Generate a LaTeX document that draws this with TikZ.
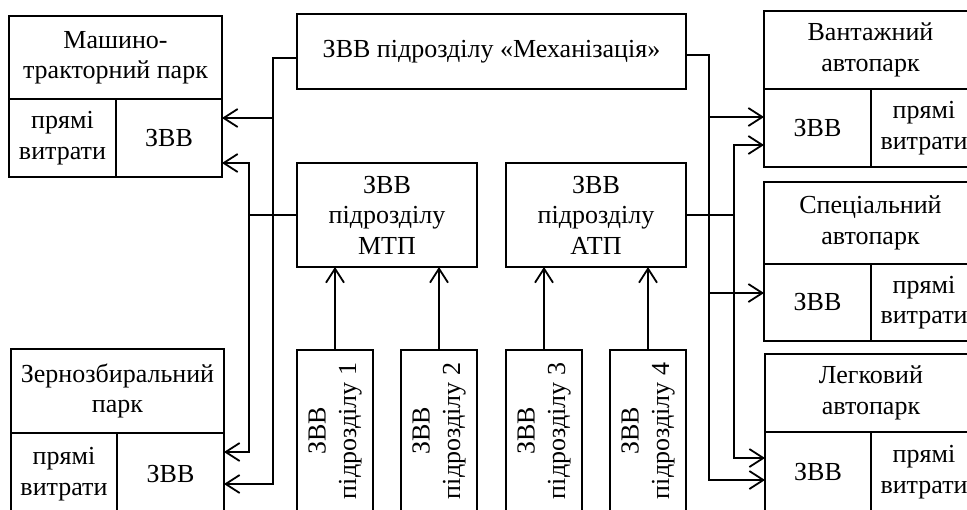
\documentclass[tikz,border=0pt]{standalone}
\usepackage{fontspec}
\setmainfont{Liberation Serif}
\usepackage{tikz}
\usetikzlibrary{arrows.meta,calc,positioning}
\newcommand{\zvFont}{\fontsize{13}{15.2}\selectfont}
\tikzset{
  zvBox/.style={
    rectangle, draw=black, line width=1pt, fill=white,
    align=center, text=black, inner sep=2pt, outer sep=0pt, font=\zvFont
  },
  zvLine/.style={draw=black, line width=0.9pt},
  zvArrow/.style={-{Straight Barb[length=7pt,width=9pt]}, draw=black, line width=0.9pt},
  zvBoth/.style={{Straight Barb[length=7pt,width=9pt]}-{Straight Barb[length=7pt,width=9pt]}, draw=black, line width=0.9pt}
}

\begin{document}
\begin{tikzpicture}[x=0.5pt, y=-0.5pt]
  \useasboundingbox (0,0) rectangle (967,509);
  \clip (0,0) rectangle (967,509);

  \node[zvBox, anchor=north west, minimum width=106.5pt, minimum height=41.5pt] (mtpPark) at (9,16) {Машино-\\тракторний парк};
  \node[zvBox, anchor=north west, minimum width=53.5pt, minimum height=39pt] (mtpDirect) at (mtpPark.south west) {прямі\\витрати};
  \node[zvBox, anchor=north west, minimum width=53pt, minimum height=39pt] (mtpZvv) at (mtpDirect.north east) {ЗВВ};

  \node[zvBox, anchor=north west, minimum width=106.5pt, minimum height=42pt] (grainPark) at (11,349) {Зернозбиральний\\парк};
  \node[zvBox, anchor=north west, minimum width=53pt, minimum height=41pt] (grainDirect) at (grainPark.south west) {прямі\\витрати};
  \node[zvBox, anchor=north west, minimum width=53.5pt, minimum height=41pt] (grainZvv) at (grainDirect.north east) {ЗВВ};

  \node[zvBox, anchor=north west, minimum width=194.5pt, minimum height=37.5pt] (mech) at (297,14) {ЗВВ підрозділу «Механізація»};
  \node[zvBox, anchor=north west, minimum width=90pt, minimum height=52pt] (mtpSub) at (297,163) {ЗВВ\\підрозділу\\МТП};
  \node[zvBox, right=14.5pt of mtpSub, minimum width=90pt, minimum height=52pt] (atpSub) {ЗВВ\\підрозділу\\АТП};

  \node[zvBox, rotate=90, minimum width=81pt, minimum height=38pt] (unit1) at (335,431) {ЗВВ\\підрозділу 1};
  \node[zvBox, rotate=90, minimum width=81pt, minimum height=38pt] (unit2) at (439,431) {ЗВВ\\підрозділу 2};
  \node[zvBox, rotate=90, minimum width=81pt, minimum height=38pt] (unit3) at (544,431) {ЗВВ\\підрозділу 3};
  \node[zvBox, rotate=90, minimum width=81pt, minimum height=38pt] (unit4) at (648,431) {ЗВВ\\підрозділу 4};

  \node[zvBox, anchor=north west, minimum width=106.5pt, minimum height=39pt] (cargoPark) at (764,11) {Вантажний\\автопарк};
  \node[zvBox, anchor=north west, minimum width=53.5pt, minimum height=39pt] (cargoZvv) at (cargoPark.south west) {ЗВВ};
  \node[zvBox, anchor=north west, minimum width=53pt, minimum height=39pt] (cargoDirect) at (cargoZvv.north east) {прямі\\витрати};

  \node[zvBox, anchor=north west, minimum width=106.5pt, minimum height=41pt] (specPark) at (764,182) {Спеціальний\\автопарк};
  \node[zvBox, anchor=north west, minimum width=53.5pt, minimum height=38.5pt] (specZvv) at (specPark.south west) {ЗВВ};
  \node[zvBox, anchor=north west, minimum width=53pt, minimum height=38.5pt] (specDirect) at (specZvv.north east) {прямі\\витрати};

  \node[zvBox, anchor=north west, minimum width=106pt, minimum height=39pt] (carPark) at (765,354) {Легковий\\автопарк};
  \node[zvBox, anchor=north west, minimum width=53pt, minimum height=40pt] (carZvv) at (carPark.south west) {ЗВВ};
  \node[zvBox, anchor=north west, minimum width=53pt, minimum height=40pt] (carDirect) at (carZvv.north east) {прямі\\витрати};

  \coordinate (busL) at (273,58);
  \coordinate (busLin) at (249,215);
  \coordinate (busR) at (709,55);
  \coordinate (busRin) at (734,215);

  \draw[zvArrow] (mech.west |- busL) -- (busL) |- (grainZvv.east |- 0,484);
  \draw[zvArrow] (busL |- 0,118) -- (mtpZvv.east |- 0,118);
  \draw[zvLine] (mtpSub.west |- busLin) -- (busLin);
  \draw[zvBoth] (mtpZvv.east |- 0,163) -| (busLin |- 0,452) -- (grainZvv.east |- 0,452);

  \draw[zvArrow] (mech.east |- busR) -- (busR) |- (carZvv.west |- 0,480);
  \draw[zvArrow] (busR |- 0,117) -- (cargoZvv.west |- 0,117);
  \draw[zvArrow] (busR |- 0,293) -- (specZvv.west |- 0,293);
  \draw[zvLine] (atpSub.east |- busRin) -- (busRin);
  \draw[zvBoth] (cargoZvv.west |- 0,145) -| (busRin |- 0,458) -- (carZvv.west |- 0,458);

  \draw[zvArrow] (unit1.east) -- (unit1.east |- mtpSub.south);
  \draw[zvArrow] (unit2.east) -- (unit2.east |- mtpSub.south);
  \draw[zvArrow] (unit3.east) -- (unit3.east |- atpSub.south);
  \draw[zvArrow] (unit4.east) -- (unit4.east |- atpSub.south);
\end{tikzpicture}
\end{document}
